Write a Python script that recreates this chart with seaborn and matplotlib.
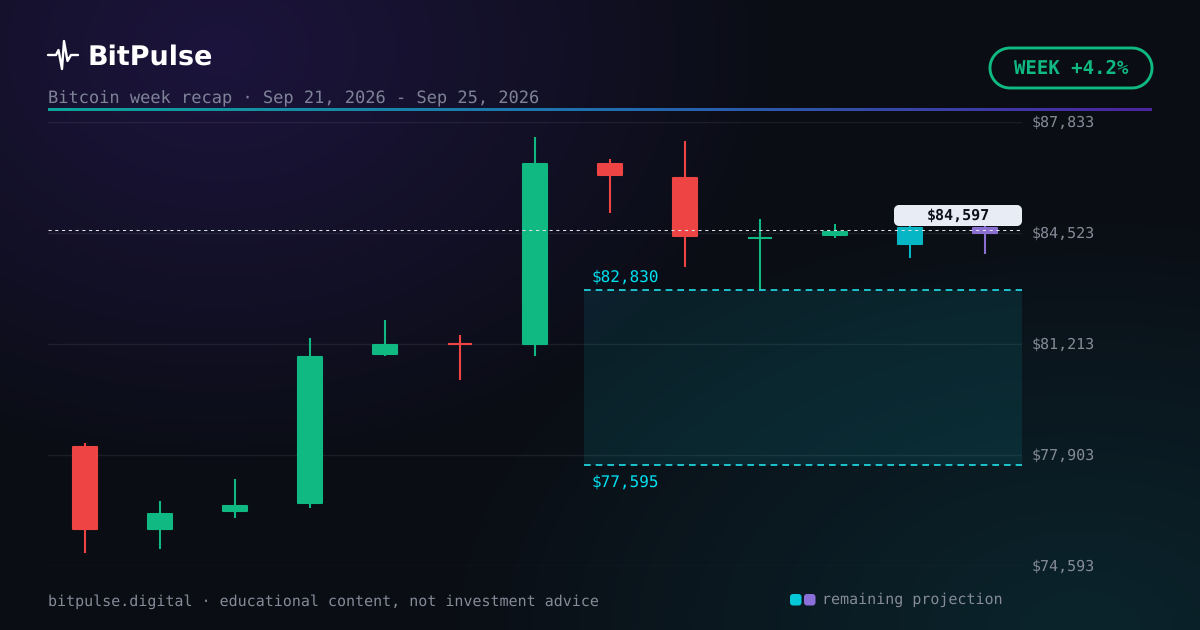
import numpy as np
import pandas as pd
import matplotlib
matplotlib.use("Agg")
import matplotlib.pyplot as plt
from matplotlib.patches import Polygon
from matplotlib.transforms import ScaledTranslation
import seaborn as sns

# ---- data ----
days = [f"c{i}" for i in range(13)]
opens  = [78171, 75666, 76203, 76442, 80885, 81213, 81183, 86610, 86193, 84374, 84434, 84702, 84702]
closes = [75666, 76173, 76412, 80855, 81213, 81213, 86610, 86223, 84404, 84374, 84583, 84165, 84493]
highs  = [78261, 76531, 77187, 81392, 81929, 81481, 87386, 86730, 87266, 84940, 84791, 84791, 84730]
lows   = [74981, 75100, 76024, 76322, 80855, 80140, 80855, 85119, 83509, 82853, 84374, 83778, 83897]
kinds  = ["down", "up", "up", "up", "up", "down", "up", "down", "down", "up", "up", "proj_a", "proj_b"]
ticks = [74593, 77903, 81213, 84523, 87833]
zone_low, zone_high = 77595, 82830
last_price = 84597
brand = "BitPulse"
subtitle = "Bitcoin week recap · Sep 21, 2026 - Sep 25, 2026"
footer = "bitpulse.digital · educational content, not investment advice"
legend_text = "remaining projection"
badge = "WEEK +4.2%"
pulse_x = [48, 56, 58.5, 62, 64, 67.5, 71, 78]
pulse_y = [55, 55, 50, 69, 41, 61, 55, 55]

palette = {"up": "#10b981", "down": "#ef4444", "proj_a": "#06b6c4", "proj_b": "#8b6fd0"}

df = pd.DataFrame({"day": days, "o": opens, "c": closes, "h": highs, "l": lows, "kind": kinds})
df["bottom"] = df[["o", "c"]].min(axis=1)
df["height"] = (df["o"] - df["c"]).abs()

W, H = 1200, 630
sns.set_theme(style="dark")
plt.rcParams["font.family"] = ["DejaVu Sans"]
plt.rcParams["text.hinting"] = "no_hinting"
plt.rcParams["text.hinting_factor"] = 1
fig = plt.figure(figsize=(W / 100, H / 100), dpi=100)


def rrect(x0, y0, x1, y1, r, **kw):
    """Rounded rectangle outline with true circular corners."""
    t = np.linspace(0, np.pi / 2, 24)
    pts = np.concatenate([
        np.c_[x1 - r + r * np.sin(t), y0 + r - r * np.cos(t)],
        np.c_[x1 - r + r * np.cos(t), y1 - r + r * np.sin(t)],
        np.c_[x0 + r - r * np.sin(t), y1 - r + r * np.cos(t)],
        np.c_[x0 + r - r * np.cos(t), y0 + r - r * np.sin(t)],
    ])
    return Polygon(pts, closed=True, **kw)


# background (decorative gradient)
bg = fig.add_axes([0, 0, 1, 1], zorder=0)
yy, xx = np.mgrid[0:H, 0:W]
base = np.array([0x0a, 0x0d, 0x14], float)
purple = np.array([0x1c, 0x14, 0x3c], float)
teal = np.array([0x0a, 0x24, 0x2c], float)
a = np.clip(1 - np.hypot((xx - 220) / 560, (yy - 50) / 420), 0, 1)[..., None]
b = np.clip(1 - np.hypot((xx - 1080) / 640, (yy - 630) / 420), 0, 1)[..., None]
img = base + (purple - base) * a ** 0.9 + (teal - base) * b ** 0.9
bg.imshow(img / 255, extent=(0, W, H, 0), aspect="auto", interpolation="bilinear")
bg.set_xlim(0, W); bg.set_ylim(H, 0); bg.axis("off")

# chart axes: x 48..1022 px, y 122..566 px
ax = fig.add_axes([48 / W, 1 - 566 / H, (1022 - 48) / W, (566 - 122) / H], zorder=2)
ax.patch.set_alpha(0)
ax.set_axisbelow(True)

for kind, color in palette.items():
    sub = df[df["kind"] == kind]
    sns.barplot(data=sub, x="day", y="height", order=days, bottom=sub["bottom"].to_numpy(),
                color=color, saturation=1, width=24 / 75, errorbar=None, ax=ax,
                linewidth=1.5, edgecolor=color, zorder=4)
# the rounded stroke adds about 1 px on each side of a body: take it back inside
stroke_px = (ticks[-1] - ticks[0]) / 444
for p in ax.patches:
    p.set_joinstyle("round")
    p.set_snap(False)
    h = p.get_height()
    inset = min(stroke_px, h / 2)
    p.set_y(p.get_y() + inset)
    p.set_height(h - 2 * inset)
for kind, color in palette.items():
    sub = df[df["kind"] == kind]
    idx = [days.index(d) for d in sub["day"]]
    ax.vlines(idx, sub["l"], sub["h"], color=color, lw=1.5, zorder=3)

ax.set_xlim(-37 / 75, 12 + 37 / 75)
ax.set_ylim(ticks[0], ticks[-1])
ax.set_xlabel(""); ax.set_ylabel("")
ax.set_xticks([])
ax.yaxis.tick_right()
ax.set_yticks(ticks)
ax.set_yticklabels([f"${t:,}" for t in ticks], family="DejaVu Sans Mono", fontsize=10.8, color="#858b98")
ax.tick_params(axis="y", length=0, pad=7)
shift = ScaledTranslation(0, 1 / 100, fig.dpi_scale_trans)
for lab in ax.get_yticklabels():
    lab.set_transform(lab.get_transform() + shift)
ax.grid(axis="y", color="#ffffff", alpha=0.07, lw=1)
ax.grid(axis="x", visible=False)
for s in ax.spines.values():
    s.set_visible(False)

# projection zone
ax.axhspan(zone_low, zone_high, xmin=(584 - 48) / 974, xmax=1, color="#10d0e0", alpha=0.1, lw=0, zorder=1)
for v in (zone_low, zone_high):
    ax.hlines(v, (584 - 85) / 75, 12 + 37 / 75, color="#22e0e8", lw=1.2, linestyles=(0, (4, 3)), zorder=5)
xt = (592 - 85) / 75
ax.text(xt, zone_high + 145, f"${zone_high:,}", color="#00e0f0", family="DejaVu Sans Mono", fontsize=11.5,
        va="bottom", ha="left")
ax.text(xt, zone_low - 270, f"${zone_low:,}", color="#00e0f0", family="DejaVu Sans Mono", fontsize=11.5,
        va="top", ha="left")

# overlay in pixel coordinates
ov = fig.add_axes([0, 0, 1, 1], zorder=3)
ov.set_xlim(0, W); ov.set_ylim(H, 0); ov.axis("off"); ov.patch.set_alpha(0)

# current price line
y_last = 122 + (ticks[-1] - last_price) / (ticks[-1] - ticks[0]) * 444
ov.plot([48, 1022], [y_last - 0.4, y_last - 0.4], color="#dfe3ea", lw=0.75, ls=(0, (3, 3.5)), zorder=3)
ov.add_patch(rrect(894, 205, 1022, 226, 5, fc="#e8ecf4", ec="none", zorder=4))
ov.text(958, 215.5, f"${last_price:,}", color="#0c1018", family="DejaVu Sans Mono", weight="bold",
        fontsize=10.8, ha="center", va="center", zorder=5)

# header
ov.plot(pulse_x, pulse_y, color="white", lw=1.7, solid_joinstyle="round", solid_capstyle="round", zorder=5)
ov.text(87.5, 57, brand, color="white", weight="bold", fontsize=19.6, va="center", ha="left")
ov.text(48, 98.5, subtitle, color="#7f8398", family="DejaVu Sans Mono", fontsize=12.24, va="center", ha="left")

# rule gradient
stops = np.array([[0x0e, 0xa5, 0x9c], [0x1f, 0x6f, 0xb0], [0x4c, 0x24, 0xa0]], float) / 255
t = np.linspace(0, 1, 512)
rule = np.stack([np.interp(t, [0, .5, 1], stops[:, i]) for i in range(3)], axis=-1)[None, ...]
ov.imshow(rule, extent=(48, 1152, 110.8, 108.3), aspect="auto", zorder=3, interpolation="nearest")
ov.set_xlim(0, W); ov.set_ylim(H, 0)

# badge
ov.add_patch(rrect(990, 48, 1152, 88, 20, fc="none", ec="#10b981", lw=2.1))
ov.text(1071, 68.5, badge, color="#10b981", family="DejaVu Sans Mono", weight="bold", fontsize=13.7,
        ha="center", va="center")

# footer
ov.text(48, 602, footer, color="#858b98", family="DejaVu Sans Mono", fontsize=10.8, va="center", ha="left")
ov.add_patch(rrect(790, 594, 801.5, 605.5, 3, fc="#06c8d8", ec="none"))
ov.add_patch(rrect(804, 594, 815.5, 605.5, 3, fc="#8b6fd8", ec="none"))
ov.text(822, 600, legend_text, color="#858b98", family="DejaVu Sans Mono", fontsize=10.8, va="center", ha="left")

fig.savefig("out.png", dpi=100, facecolor="#0a0d14")
